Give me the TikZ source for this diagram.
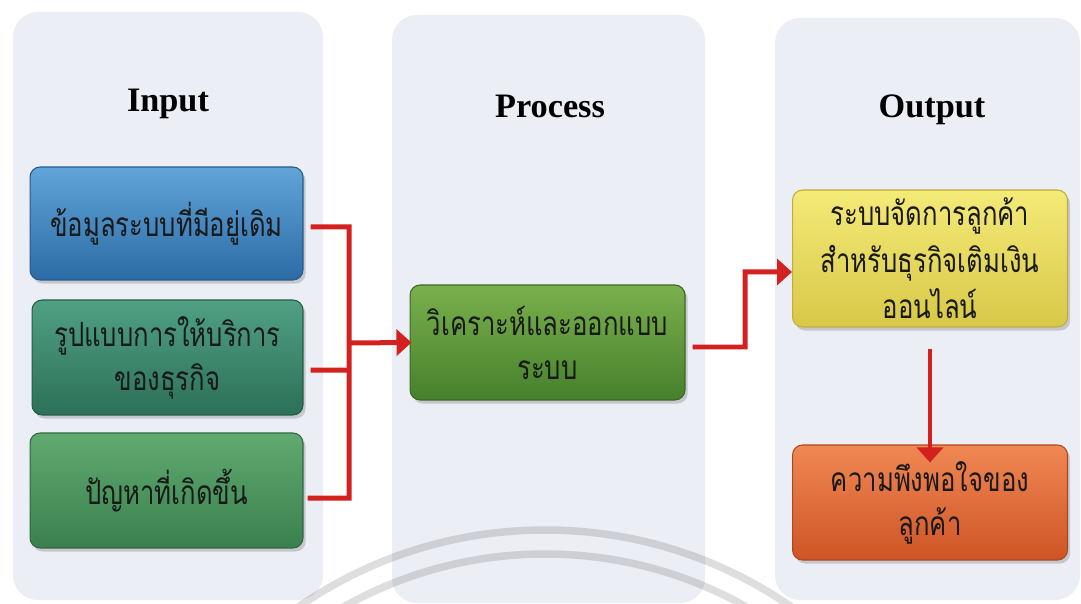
\documentclass[tikz,border=0pt]{standalone}
\usepackage{fontspec}
\setmainfont{Liberation Serif}
\newfontfamily\thaifont[Script=Thai, FakeStretch=0.77]{Loma}
\usetikzlibrary{arrows.meta,shadows}

\definecolor{panelbg}{HTML}{ECEEF5}
\definecolor{linkred}{HTML}{D2211E}
% card colours: top, middle, bottom, edge
\definecolor{blueT}{RGB}{96,164,216}
\definecolor{blueM}{RGB}{62,134,194}
\definecolor{blueB}{RGB}{44,108,166}
\definecolor{blueE}{RGB}{38,90,140}
\definecolor{tealT}{RGB}{80,160,132}
\definecolor{tealM}{RGB}{60,138,110}
\definecolor{tealB}{RGB}{44,112,88}
\definecolor{tealE}{RGB}{36,92,72}
\definecolor{grnT}{RGB}{96,170,112}
\definecolor{grnM}{RGB}{78,152,96}
\definecolor{grnB}{RGB}{58,128,78}
\definecolor{grnE}{RGB}{48,104,64}
\definecolor{procT}{RGB}{122,176,76}
\definecolor{procM}{RGB}{94,152,58}
\definecolor{procB}{RGB}{70,128,44}
\definecolor{procE}{RGB}{58,104,36}
\definecolor{yelT}{RGB}{244,234,120}
\definecolor{yelM}{RGB}{236,224,96}
\definecolor{yelB}{RGB}{216,200,72}
\definecolor{yelE}{RGB}{190,174,60}
\definecolor{orgT}{RGB}{240,136,84}
\definecolor{orgM}{RGB}{226,108,58}
\definecolor{orgB}{RGB}{206,84,38}
\definecolor{orgE}{RGB}{176,70,30}

\tikzset{
  x=0.02cm, y=-0.02cm,
  panel/.style={fill=panelbg, draw=none, rounded corners=0.5cm},
  title/.style={font=\fontsize{19.5}{22}\selectfont\bfseries, text=black},
  card/.style={rounded corners=0.2cm, draw=#1E, line width=0.6pt,
    top color=#1T, middle color=#1M, bottom color=#1B,
    align=center, text=black!90, inner sep=2pt,
    font=\thaifont\fontsize{19}{25}\selectfont,
    drop shadow={shadow xshift=1.5pt, shadow yshift=-2pt, opacity=0.35}},
  conn/.style={draw=linkred, line width=0.1cm},
  arr/.style={conn, -{Triangle[length=0.3cm, width=0.52cm]}},
}

\begin{document}
\begin{tikzpicture}
\useasboundingbox (0,0) rectangle (1081,604);
\fill[white] (0,0) rectangle (1081,604);

% three column panels
\fill[panel] (13,12) rectangle (323,600);
\fill[panel] (392,15) rectangle (705,603);
\fill[panel] (775,18) rectangle (1080,600);

% faint arcs across the lower part
\begin{scope}
  \clip (0,0) rectangle (1081,604);
  \draw[black, opacity=0.13, line width=0.15cm] (545,963) circle[radius=433];
  \draw[black, opacity=0.13, line width=0.15cm] (545,963) circle[radius=409];
\end{scope}

% column titles
\node[title] (tin)  at (168,104) {Input};
\node[title] (tpr)  at (550,106) {Process};
\node[title] (tout) at (932,110) {Output};

% input cards
\node[card=blue, minimum width=5.46cm, minimum height=2.26cm] (b1) at (166.5,223.5)
  {ข้อมูลระบบที่มีอยู่เดิม};
\node[card=teal, minimum width=5.42cm, minimum height=2.3cm] (b2) at (167.5,357.5)
  {รูปแบบการให้บริการ\\ของธุรกิจ};
\node[card=grn, minimum width=5.46cm, minimum height=2.3cm] (b3) at (166.5,490.5)
  {ปัญหาที่เกิดขึ้น};

% process card
\node[card=proc, minimum width=5.5cm, minimum height=2.3cm] (proc) at (547.5,342.5)
  {วิเคราะห์และออกแบบ\\ระบบ};

% output cards
\node[card=yel, font=\thaifont\fontsize{19}{26.5}\selectfont,
      minimum width=5.5cm, minimum height=2.74cm] (yel) at (930,258.5)
  {ระบบจัดการลูกค้า\\สำหรับธุรกิจเติมเงิน\\ออนไลน์};
\node[card=org, minimum width=5.5cm, minimum height=2.3cm] (org) at (930,502.5)
  {ความพึงพอใจของ\\ลูกค้า};

% connectors
\coordinate (bt) at (349,227);
\coordinate (bm) at (349,370);
\coordinate (bb) at (349,498);
\coordinate (bj) at (349,343);
\draw[conn, line join=miter] ([shift={(7,3.5)}]b1.east) -- (bt) -- (bb) -- ([shift={(4,7.5)}]b3.east);
\draw[conn] ([shift={(7,12.5)}]b2.east) -- (bm);
\draw[arr] (bj) -- ([shift={(2,0)}]proc.west);

\coordinate (pk) at (745,272);
\draw[arr, line join=miter] ([shift={(7,4.5)}]proc.east) -| (pk) -- ([shift={(0,13.5)}]yel.west);

\draw[arr, line width=0.08cm] ([shift={(0,21)}]yel.south) -- ([shift={(0,18)}]org.north);
\end{tikzpicture}
\end{document}
